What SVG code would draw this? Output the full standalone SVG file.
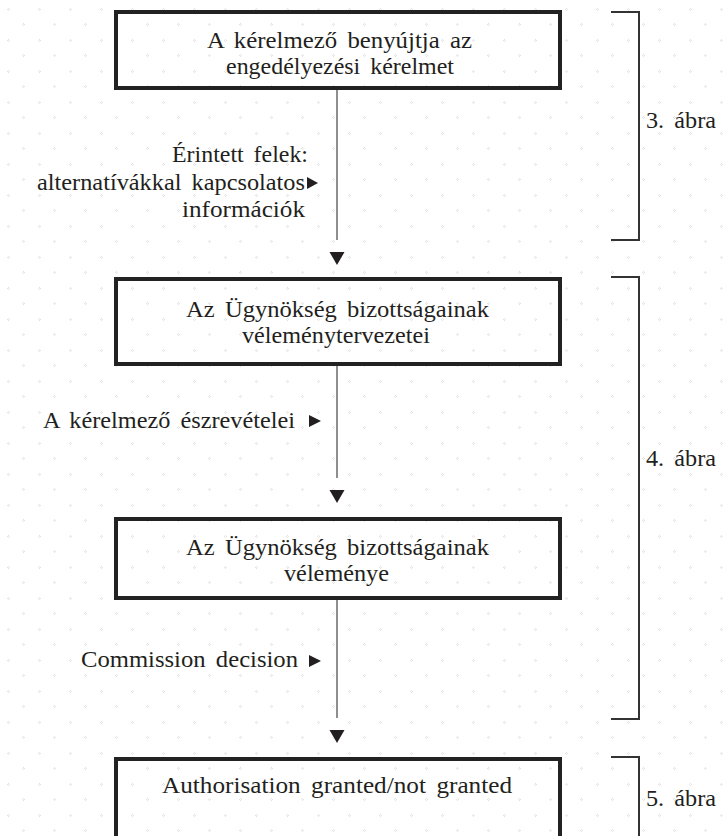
<svg xmlns="http://www.w3.org/2000/svg" width="726" height="836" viewBox="0 0 726 836">
<style>
  text { font-family: "Liberation Serif", "Times New Roman", "DejaVu Serif", serif; font-size: 24px; word-spacing: 4px; fill: #231f20; }
  .box { fill: none; stroke: #222; stroke-width: 4; }
  .conn { stroke: #444; stroke-width: 1.2; fill: none; }
  .brk { stroke: #333; stroke-width: 2; fill: none; }
  .tri { fill: #231f20; }
</style>
<defs>
  <pattern id="dots" patternUnits="userSpaceOnUse" width="31" height="31">
    <g fill="#e3e3e3">
      <rect x="7" y="9" width="1" height="1"/><rect x="9" y="9" width="1" height="1"/>
      <rect x="8" y="8" width="1" height="1"/><rect x="8" y="10" width="1" height="1"/>
      <rect x="22" y="24" width="1" height="1"/><rect x="24" y="24" width="1" height="1"/>
      <rect x="23" y="23" width="1" height="1"/><rect x="23" y="25" width="1" height="1"/>
    </g>
  </pattern>
  <marker id="down" markerUnits="userSpaceOnUse" markerWidth="30" markerHeight="20" refX="0" refY="0" viewBox="0 -10 30 20" orient="auto" overflow="visible">
    <path d="M12,-7.5 L25,0 L12,7.5 Z" fill="#231f20"/>
  </marker>
</defs>
<rect x="0" y="0" width="726" height="836" fill="#ffffff"/>
<rect x="0" y="0" width="726" height="836" fill="url(#dots)"/>

<g id="connectors">
  <line class="conn" x1="337" y1="90" x2="337" y2="240" marker-end="url(#down)"/>
  <line class="conn" x1="337" y1="366" x2="337" y2="478" marker-end="url(#down)"/>
  <line class="conn" x1="337" y1="600" x2="337" y2="718" marker-end="url(#down)"/>
</g>

<g id="node-1">
  <rect class="box" x="116" y="12" width="444" height="76"/>
  <text x="207" y="48" textLength="265" lengthAdjust="spacingAndGlyphs">A kérelmező benyújtja az</text>
  <text x="226" y="74" textLength="228" lengthAdjust="spacingAndGlyphs">engedélyezési kérelmet</text>
</g>

<g id="node-2">
  <rect class="box" x="116" y="279" width="444" height="85"/>
  <text x="186" y="317" textLength="303" lengthAdjust="spacingAndGlyphs">Az Ügynökség bizottságainak</text>
  <text x="242" y="343" textLength="188" lengthAdjust="spacingAndGlyphs">véleménytervezetei</text>
</g>

<g id="node-3">
  <rect class="box" x="116" y="519" width="444" height="79"/>
  <text x="186" y="555" textLength="303" lengthAdjust="spacingAndGlyphs">Az Ügynökség bizottságainak</text>
  <text x="284" y="581" textLength="105" lengthAdjust="spacingAndGlyphs">véleménye</text>
</g>

<g id="node-4">
  <rect class="box" x="116" y="759" width="444" height="100"/>
  <text x="162" y="793" textLength="350" lengthAdjust="spacingAndGlyphs">Authorisation granted/not granted</text>
</g>

<g id="label-1">
  <text x="172" y="162" textLength="136" lengthAdjust="spacingAndGlyphs">Érintett felek:</text>
  <text x="37" y="190" textLength="268" lengthAdjust="spacingAndGlyphs">alternatívákkal kapcsolatos</text>
  <text x="182" y="217" textLength="123" lengthAdjust="spacingAndGlyphs">információk</text>
  <path class="tri" d="M307,177 L318,183 L307,189 Z"/>
</g>

<g id="label-2">
  <text x="43" y="428" textLength="252" lengthAdjust="spacingAndGlyphs">A kérelmező észrevételei</text>
  <path class="tri" d="M309,415 L321,421 L309,427 Z"/>
</g>

<g id="label-3">
  <text x="81" y="667" textLength="217" lengthAdjust="spacingAndGlyphs">Commission decision</text>
  <path class="tri" d="M309,655 L321,661 L309,667 Z"/>
</g>

<g id="bracket-3">
  <path class="brk" d="M611,12 H639 V240 H611"/>
  <text x="646" y="128" textLength="70" lengthAdjust="spacingAndGlyphs">3. ábra</text>
</g>

<g id="bracket-4">
  <path class="brk" d="M611,277 H639 V719 H611"/>
  <text x="646" y="466" textLength="70" lengthAdjust="spacingAndGlyphs">4. ábra</text>
</g>

<g id="bracket-5">
  <path class="brk" d="M611,757 H639 V840"/>
  <text x="646" y="806" textLength="70" lengthAdjust="spacingAndGlyphs">5. ábra</text>
</g>
</svg>
